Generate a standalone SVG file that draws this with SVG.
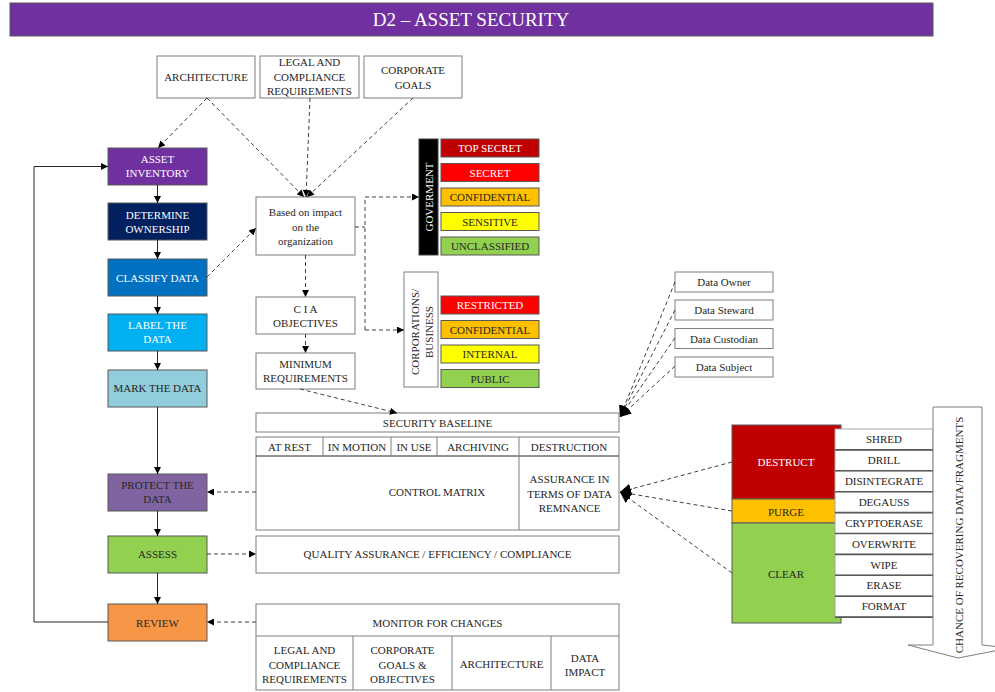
<svg xmlns="http://www.w3.org/2000/svg" width="995" height="692" viewBox="0 0 995 692">
  <style>
    text { font-family: "Liberation Serif", "Times New Roman", serif; font-size: 11px; fill: #262626; text-anchor: middle; }
    .w { fill: #ffffff; }
    .box { fill: #ffffff; stroke: #7f7f7f; stroke-width: 1; }
    .cbox { stroke: #595959; stroke-width: 1; }
    .dash { fill: none; stroke: #404040; stroke-width: 1; stroke-dasharray: 4 3; }
    .solid { fill: none; stroke: #262626; stroke-width: 1; }
    .item { fill: #ffffff; stroke: #a6a6a6; stroke-width: 1; }
    .itemline { stroke: #595959; stroke-width: 1.6; }
  </style>
  <defs>
    <marker id="arr" viewBox="0 0 10 10" refX="10" refY="5" markerWidth="8" markerHeight="7" markerUnits="userSpaceOnUse" orient="auto">
      <path d="M0,0 L10,5 L0,10 z" fill="#000000"/>
    </marker>
    <marker id="arrBig" viewBox="0 0 10 10" refX="10" refY="5" markerWidth="11" markerHeight="11" markerUnits="userSpaceOnUse" orient="auto">
      <path d="M0,0 L10,5 L0,10 z" fill="#000000"/>
    </marker>
  </defs>

  <!-- title bar -->
  <g id="title">
    <rect x="10" y="3" width="923" height="33" fill="#7030A0" stroke="#595959"/>
    <text x="471" y="26" class="w" style="font-size:19px">D2 – ASSET SECURITY</text>
  </g>

  <!-- inputs -->
  <g id="architecture">
    <rect class="box" x="157" y="56" width="98" height="42"/>
    <text x="206" y="81">ARCHITECTURE</text>
  </g>
  <g id="legal">
    <rect class="box" x="260" y="56" width="99" height="42"/>
    <text x="309.5" y="66">LEGAL AND</text>
    <text x="309.5" y="80.5">COMPLIANCE</text>
    <text x="309.5" y="95">REQUIREMENTS</text>
  </g>
  <g id="corporate-goals">
    <rect class="box" x="364" y="56" width="98" height="42"/>
    <text x="413" y="74">CORPORATE</text>
    <text x="413" y="89">GOALS</text>
  </g>

  <!-- lifecycle column -->
  <g id="asset-inventory">
    <rect class="cbox" x="108" y="148" width="99" height="37" fill="#7030A0"/>
    <text x="157.5" y="163" class="w">ASSET</text>
    <text x="157.5" y="177" class="w">INVENTORY</text>
  </g>
  <g id="determine-ownership">
    <rect class="cbox" x="108" y="203" width="99" height="37" fill="#002060"/>
    <text x="157.5" y="219" class="w">DETERMINE</text>
    <text x="157.5" y="233" class="w">OWNERSHIP</text>
  </g>
  <g id="classify-data">
    <rect class="cbox" x="108" y="259" width="99" height="37" fill="#0070C0"/>
    <text x="157.5" y="281.5" class="w">CLASSIFY DATA</text>
  </g>
  <g id="label-data">
    <rect class="cbox" x="108" y="314" width="99" height="37" fill="#00B0F0"/>
    <text x="157.5" y="329" class="w">LABEL THE</text>
    <text x="157.5" y="343" class="w">DATA</text>
  </g>
  <g id="mark-data">
    <rect class="cbox" x="108" y="370" width="99" height="37" fill="#92CDDC"/>
    <text x="157.5" y="392">MARK THE DATA</text>
  </g>
  <g id="protect-data">
    <rect class="cbox" x="108" y="474" width="99" height="37" fill="#8064A2"/>
    <text x="157.5" y="489">PROTECT THE</text>
    <text x="157.5" y="503">DATA</text>
  </g>
  <g id="assess">
    <rect class="cbox" x="108" y="536" width="99" height="37" fill="#92D050"/>
    <text x="157.5" y="558">ASSESS</text>
  </g>
  <g id="review">
    <rect class="cbox" x="108" y="604" width="99" height="37" fill="#F79646"/>
    <text x="157.5" y="626.5">REVIEW</text>
  </g>

  <!-- classification path -->
  <g id="impact">
    <rect class="box" x="256" y="197" width="99" height="58"/>
    <text x="305.5" y="215.5">Based on impact</text>
    <text x="305.5" y="230.5">on the</text>
    <text x="305.5" y="245">organization</text>
  </g>
  <g id="cia">
    <rect class="box" x="256" y="297" width="99" height="37"/>
    <text x="305.5" y="313">C I A</text>
    <text x="305.5" y="327">OBJECTIVES</text>
  </g>
  <g id="minimum-req">
    <rect class="box" x="256" y="353" width="99" height="36"/>
    <text x="305.5" y="368">MINIMUM</text>
    <text x="305.5" y="382">REQUIREMENTS</text>
  </g>

  <!-- government levels -->
  <g id="government">
    <rect x="419" y="139" width="19" height="116" fill="#000000" stroke="#404040"/>
    <text transform="translate(432.5,197) rotate(-90)" class="w">GOVERMENT</text>
    <rect class="cbox" x="441" y="139" width="98" height="18" fill="#C00000"/>
    <text x="490" y="152" class="w">TOP SECRET</text>
    <rect class="cbox" x="441" y="163.5" width="98" height="18" fill="#FF0000"/>
    <text x="490" y="176.5" class="w">SECRET</text>
    <rect class="cbox" x="441" y="188" width="98" height="18" fill="#FFC000"/>
    <text x="490" y="201">CONFIDENTIAL</text>
    <rect class="cbox" x="441" y="212.5" width="98" height="18" fill="#FFFF00"/>
    <text x="490" y="225.5">SENSITIVE</text>
    <rect class="cbox" x="441" y="237" width="98" height="18" fill="#92D050"/>
    <text x="490" y="250">UNCLASSIFIED</text>
  </g>

  <!-- commercial levels -->
  <g id="corporations">
    <rect class="box" x="404" y="272" width="34" height="115"/>
    <text transform="translate(418.5,332) rotate(-90)">CORPORATIONS/</text>
    <text transform="translate(433,332) rotate(-90)">BUSINESS</text>
    <rect class="cbox" x="441" y="296" width="98" height="18" fill="#FF0000"/>
    <text x="490" y="309" class="w">RESTRICTED</text>
    <rect class="cbox" x="441" y="320.5" width="98" height="18" fill="#FFC000"/>
    <text x="490" y="333.5">CONFIDENTIAL</text>
    <rect class="cbox" x="441" y="345" width="98" height="18" fill="#FFFF00"/>
    <text x="490" y="358">INTERNAL</text>
    <rect class="cbox" x="441" y="369.5" width="98" height="18" fill="#92D050"/>
    <text x="490" y="382.5">PUBLIC</text>
  </g>

  <!-- data roles -->
  <g id="data-owner">
    <rect class="box" x="675" y="272" width="98" height="20"/>
    <text x="724" y="286">Data Owner</text>
  </g>
  <g id="data-steward">
    <rect class="box" x="675" y="300" width="98" height="20"/>
    <text x="724" y="314">Data Steward</text>
  </g>
  <g id="data-custodian">
    <rect class="box" x="675" y="328.5" width="98" height="20"/>
    <text x="724" y="342.5">Data Custodian</text>
  </g>
  <g id="data-subject">
    <rect class="box" x="675" y="357" width="98" height="20"/>
    <text x="724" y="371">Data Subject</text>
  </g>

  <!-- baseline and control matrix -->
  <g id="security-baseline">
    <rect class="box" x="256" y="413" width="363" height="19"/>
    <text x="437.5" y="426.5">SECURITY BASELINE</text>
  </g>
  <g id="control-matrix">
    <rect class="box" x="256" y="437" width="363" height="93"/>
    <line class="solid" x1="256" y1="456" x2="619" y2="456" stroke="#7f7f7f"/>
    <line x1="323" y1="437" x2="323" y2="456" stroke="#7f7f7f"/>
    <line x1="391" y1="437" x2="391" y2="456" stroke="#7f7f7f"/>
    <line x1="437" y1="437" x2="437" y2="456" stroke="#7f7f7f"/>
    <line x1="519" y1="437" x2="519" y2="530" stroke="#7f7f7f"/>
    <text x="289.5" y="451">AT REST</text>
    <text x="357" y="451">IN MOTION</text>
    <text x="414" y="451">IN USE</text>
    <text x="478" y="451">ARCHIVING</text>
    <text x="569" y="451">DESTRUCTION</text>
    <text x="437" y="496">CONTROL MATRIX</text>
    <text x="569.5" y="483">ASSURANCE IN</text>
    <text x="569.5" y="497.5">TERMS OF DATA</text>
    <text x="569.5" y="512">REMNANCE</text>
  </g>
  <g id="quality-assurance">
    <rect class="box" x="256" y="536" width="363" height="37"/>
    <text x="437.5" y="558">QUALITY ASSURANCE / EFFICIENCY / COMPLIANCE</text>
  </g>
  <g id="monitor">
    <rect class="box" x="256" y="604" width="363" height="86"/>
    <line x1="256" y1="636" x2="619" y2="636" stroke="#7f7f7f"/>
    <line x1="353" y1="636" x2="353" y2="690" stroke="#7f7f7f"/>
    <line x1="452" y1="636" x2="452" y2="690" stroke="#7f7f7f"/>
    <line x1="551" y1="636" x2="551" y2="690" stroke="#7f7f7f"/>
    <text x="437.5" y="626.5">MONITOR FOR CHANGES</text>
    <text x="304.5" y="654">LEGAL AND</text>
    <text x="304.5" y="668.5">COMPLIANCE</text>
    <text x="304.5" y="683">REQUIREMENTS</text>
    <text x="402.5" y="654">CORPORATE</text>
    <text x="402.5" y="668.5">GOALS &amp;</text>
    <text x="402.5" y="683">OBJECTIVES</text>
    <text x="501.5" y="668">ARCHITECTURE</text>
    <text x="585" y="661.5">DATA</text>
    <text x="585" y="676">IMPACT</text>
  </g>

  <!-- sanitization methods -->
  <g id="sanitization">
    <rect class="cbox" x="732" y="425" width="109" height="74" fill="#C00000"/>
    <rect class="cbox" x="732" y="499" width="109" height="24" fill="#FFC000"/>
    <rect class="cbox" x="732" y="523" width="109" height="100" fill="#92D050"/>
    <text x="786" y="466" class="w">DESTRUCT</text>
    <text x="786" y="515.5">PURGE</text>
    <text x="786" y="577.5">CLEAR</text>
    <rect class="item" x="835" y="429" width="98" height="20.9"/>
    <rect class="item" x="835" y="449.9" width="98" height="20.9"/>
    <rect class="item" x="835" y="470.8" width="98" height="20.9"/>
    <rect class="item" x="835" y="491.7" width="98" height="20.9"/>
    <rect class="item" x="835" y="512.6" width="98" height="20.9"/>
    <rect class="item" x="835" y="533.5" width="98" height="20.9"/>
    <rect class="item" x="835" y="554.4" width="98" height="20.9"/>
    <rect class="item" x="835" y="575.3" width="98" height="20.9"/>
    <rect class="item" x="835" y="596.2" width="98" height="20.9"/>
    <line class="itemline" x1="835" y1="449.9" x2="933" y2="449.9"/>
    <line class="itemline" x1="835" y1="470.8" x2="933" y2="470.8"/>
    <line class="itemline" x1="835" y1="491.7" x2="933" y2="491.7"/>
    <line class="itemline" x1="835" y1="512.6" x2="933" y2="512.6"/>
    <line class="itemline" x1="835" y1="533.5" x2="933" y2="533.5"/>
    <line class="itemline" x1="835" y1="554.4" x2="933" y2="554.4"/>
    <line class="itemline" x1="835" y1="575.3" x2="933" y2="575.3"/>
    <line class="itemline" x1="835" y1="596.2" x2="933" y2="596.2"/>
    <line class="itemline" x1="835" y1="617.1" x2="933" y2="617.1"/>
    <text x="884" y="443">SHRED</text>
    <text x="884" y="464">DRILL</text>
    <text x="884" y="485">DISINTEGRATE</text>
    <text x="884" y="505.5">DEGAUSS</text>
    <text x="884" y="526.5">CRYPTOERASE</text>
    <text x="884" y="547.5">OVERWRITE</text>
    <text x="884" y="568.5">WIPE</text>
    <text x="884" y="589">ERASE</text>
    <text x="884" y="610">FORMAT</text>
  </g>

  <!-- recovery scale arrow -->
  <g id="recovery-arrow">
    <polygon points="933,407 982,407 982,645 1010,648 958,658 908,645 933,645" fill="#ffffff" stroke="#7f7f7f" stroke-width="1"/>
    <text transform="translate(962.5,535) rotate(-90)">CHANCE OF RECOVERING DATA/FRAGMENTS</text>
  </g>

  <!-- connectors -->
  <g id="connectors">
    <!-- lifecycle flow -->
    <line class="solid" x1="157.5" y1="185" x2="157.5" y2="203" marker-end="url(#arr)"/>
    <line class="solid" x1="157.5" y1="240" x2="157.5" y2="259" marker-end="url(#arr)"/>
    <line class="solid" x1="157.5" y1="296" x2="157.5" y2="314" marker-end="url(#arr)"/>
    <line class="solid" x1="157.5" y1="351" x2="157.5" y2="370" marker-end="url(#arr)"/>
    <line class="solid" x1="157.5" y1="407" x2="157.5" y2="474" marker-end="url(#arr)"/>
    <line class="solid" x1="157.5" y1="511" x2="157.5" y2="536" marker-end="url(#arr)"/>
    <line class="solid" x1="157.5" y1="573" x2="157.5" y2="604" marker-end="url(#arr)"/>
    <polyline class="solid" points="108,622 34,622 34,166.5 108,166.5" marker-end="url(#arr)"/>

    <!-- inputs -->
    <line class="dash" x1="207" y1="98" x2="158" y2="148" marker-end="url(#arr)"/>
    <line class="dash" x1="207" y1="98" x2="304" y2="197" marker-end="url(#arr)"/>
    <line class="dash" x1="310" y1="98" x2="306" y2="197" marker-end="url(#arr)"/>
    <line class="dash" x1="413" y1="98" x2="307" y2="197" marker-end="url(#arr)"/>
    <line class="dash" x1="207" y1="277" x2="256" y2="228" marker-end="url(#arr)"/>

    <!-- classification branches -->
    <polyline class="dash" points="355,227 365,227"/>
    <polyline class="dash" points="365,330 365,197 419,197" marker-end="url(#arr)"/>
    <line class="dash" x1="365" y1="330" x2="404" y2="330" marker-end="url(#arr)"/>
    <line class="dash" x1="305.5" y1="255" x2="305.5" y2="297" marker-end="url(#arr)"/>
    <line class="dash" x1="305.5" y1="334" x2="305.5" y2="353" marker-end="url(#arr)"/>
    <line class="dash" x1="300" y1="389" x2="397" y2="413" marker-end="url(#arr)"/>

    <!-- data roles to baseline -->
    <line class="dash" x1="675" y1="282" x2="620" y2="417" marker-end="url(#arrBig)"/>
    <line class="dash" x1="675" y1="310" x2="620" y2="417" marker-end="url(#arrBig)"/>
    <line class="dash" x1="675" y1="338" x2="620" y2="417" marker-end="url(#arrBig)"/>
    <line class="dash" x1="675" y1="366" x2="620" y2="417" marker-end="url(#arrBig)"/>

    <!-- sanitization to assurance -->
    <line class="dash" x1="732" y1="462" x2="620" y2="492" marker-end="url(#arrBig)"/>
    <line class="dash" x1="732" y1="511" x2="620" y2="492" marker-end="url(#arrBig)"/>
    <line class="dash" x1="732" y1="573" x2="620" y2="492" marker-end="url(#arrBig)"/>

    <!-- matrix / QA / monitoring to lifecycle -->
    <line class="dash" x1="256" y1="492" x2="207" y2="492" marker-end="url(#arr)"/>
    <line class="dash" x1="207" y1="554" x2="256" y2="554" marker-end="url(#arr)"/>
    <line class="dash" x1="256" y1="622" x2="207" y2="622" marker-end="url(#arr)"/>
  </g>
</svg>
